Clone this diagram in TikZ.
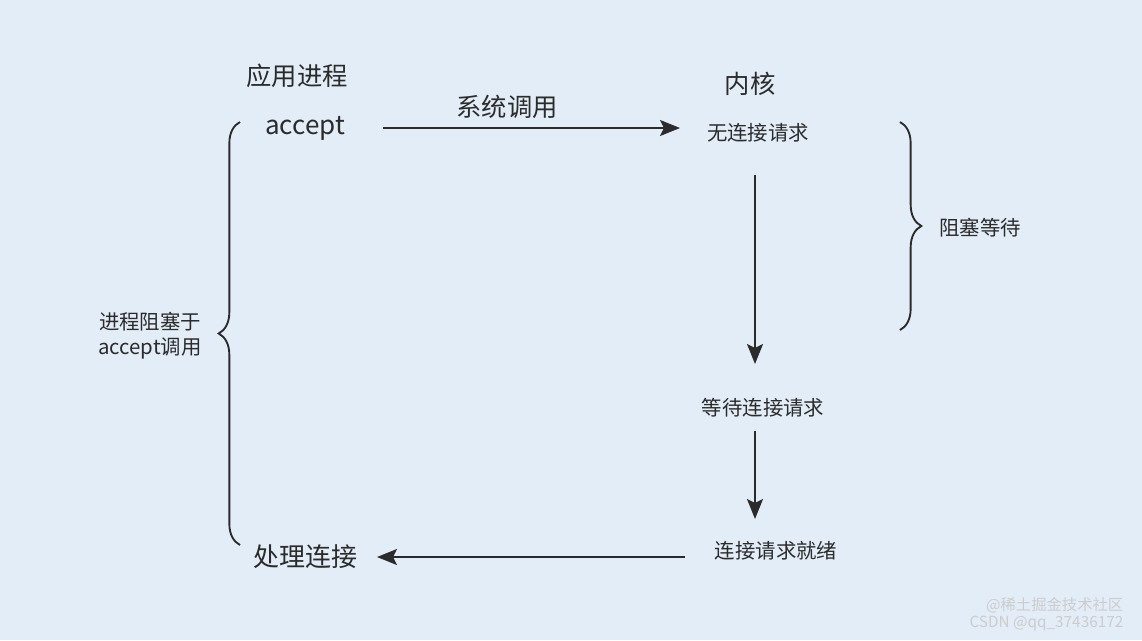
\documentclass[tikz,border=0pt]{standalone}
\usepackage{fontspec}
\setmainfont{Noto Sans CJK SC}
\usetikzlibrary{arrows.meta,decorations.pathreplacing}
\definecolor{bg}{HTML}{E3EDF8}
\definecolor{ink}{HTML}{2B2B2B}
\begin{document}
\begin{tikzpicture}[x=0.75pt,y=-0.75pt,
  big/.style={font=\fontsize{19.5}{22}\selectfont,text=ink},
  mid/.style={font=\fontsize{19}{22}\selectfont,text=ink},
  small/.style={font=\fontsize{15.3}{19}\selectfont,text=ink,align=center},
  arr/.style={draw=ink,line width=1.4pt,-{Stealth[length=15pt,width=12pt,inset=3pt]}},
  brc/.style={draw=ink,line width=1.4pt,decorate,decoration={brace,amplitude=16pt}}]
\fill[bg] (0,0) rectangle (1142,640);
\useasboundingbox (0,0) rectangle (1142,640);
\node[mid] (app) at (297,76) {应用进程};
\node[big] (acc) at (305,128) {accept};
\node[mid] (sys) at (507,107) {系统调用};
\node[mid] (kern) at (750,84) {内核};
\node[small] (noconn) at (758,133) {无连接请求};
\node[small] (wait) at (763,408) {等待连接请求};
\node[small] (ready) at (776,551) {连接请求就绪};
\node[big] (proc) at (305,557) {处理连接};
\node[small] (block) at (980,228) {阻塞等待};
\node[small] (pblock) at (150,336) {进程阻塞于\\accept调用};
\coordinate (a1) at (383,128); \coordinate (a2) at (680,128);
\coordinate (b1) at (755,175); \coordinate (b2) at (755,364);
\coordinate (c1) at (755,431); \coordinate (c2) at (755,519);
\coordinate (d1) at (685,557); \coordinate (d2) at (377,557);
\draw[arr] (a1) -- (a2);
\draw[arr] (b1) -- (b2);
\draw[arr] (c1) -- (c2);
\draw[arr] (d1) -- (d2);
\coordinate (r1) at (900,122); \coordinate (r2) at (900,330);
\draw[brc] (r1) -- (r2);
\coordinate (l1) at (240,545); \coordinate (l2) at (240,122);
\draw[brc] (l1) -- (l2);
\node[font=\fontsize{11.5}{13}\selectfont,text=white!60!gray,anchor=east] (wm1) at (1128,605) {@稀土掘金技术社区};
\node[font=\fontsize{11.5}{13}\selectfont,text=white!60!gray,anchor=east] (wm2) at (1128,624) {CSDN @qq\_37436172};
\end{tikzpicture}
\end{document}
